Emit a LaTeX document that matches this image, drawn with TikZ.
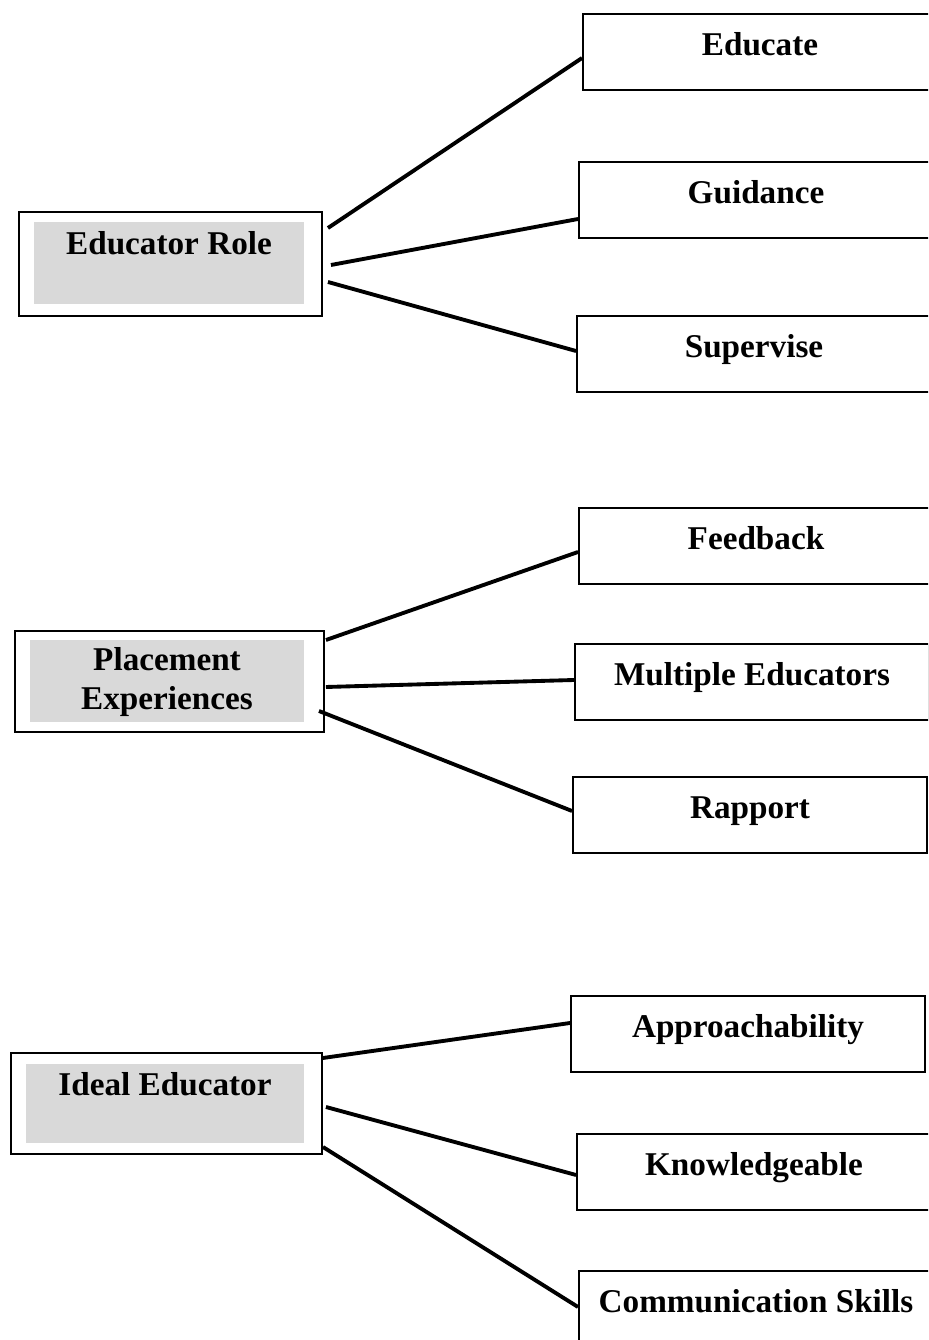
\documentclass[tikz,border=0pt]{standalone}
\usepackage{fontspec}
\setmainfont{Liberation Serif}
\usepackage{xcolor}
\usetikzlibrary{calc}
\definecolor{hubgray}{RGB}{217,217,217}

\begin{document}
\begin{tikzpicture}[scale=0.2,
  hubbox/.style={draw=black, line width=1.1pt, fill=white},
  hubfill/.style={fill=hubgray},
  hublabel/.style={font=\fontsize{18.9}{22.1}\selectfont\bfseries, align=center},
  leafbox/.style={draw=black, line width=1.1pt, minimum width=7.08cm, minimum height=1.52cm,
    font=\fontsize{18.9}{22.1}\selectfont\bfseries, text height=15.4pt, text depth=11.3pt},
  link/.style={black, line width=2.2pt}]
\tikzstyle{every node}+=[inner sep=0pt]
\useasboundingbox (0,0) rectangle (92.8,-134);
\clip (0,0) rectangle (92.8,-134);
\node [hubbox, minimum width=6.06cm, minimum height=2.08cm] (role) at (17.05,-26.4) {};
\node [hubfill, minimum width=5.4cm, minimum height=1.64cm] (rolefill) at (16.9,-26.3) {};
\node [hublabel, anchor=base] (rolelabel) at (16.9,-25.5) {Educator Role};
\node [hubbox, minimum width=6.18cm, minimum height=2.02cm] (place) at (16.95,-68.15) {};
\node [hubfill, minimum width=5.48cm, minimum height=1.64cm] (placefill) at (16.7,-68.1) {};
\node [hublabel] (placelabel) at (16.7,-68.17) {Placement\\Experiences};
\node [hubbox, minimum width=6.22cm, minimum height=2.02cm] (ideal) at (16.65,-110.35) {};
\node [hubfill, minimum width=5.56cm, minimum height=1.58cm] (idealfill) at (16.5,-110.35) {};
\node [hublabel, anchor=base] (ideallabel) at (16.5,-109.5) {Ideal Educator};
\node [leafbox] (educate) at (76.0,-5.2) {Educate};
\node [leafbox] (guidance) at (75.6,-20.0) {Guidance};
\node [leafbox] (supervise) at (75.4,-35.4) {Supervise};
\node [leafbox] (feedback) at (75.6,-54.6) {Feedback};
\node [leafbox] (multi) at (75.2,-68.2) {Multiple Educators};
\node [leafbox] (rapport) at (75.0,-81.5) {Rapport};
\node [leafbox] (approach) at (74.8,-103.4) {Approachability};
\node [leafbox] (knowledge) at (75.4,-117.2) {Knowledgeable};
\node [leafbox] (comm) at (75.6,-130.9) {Communication Skills};
\draw [link] ($(role.east)+(0.5,3.6)$) -- ($(educate.west)+(0,-0.6)$);
\draw [link] ($(role.east)+(0.8,-0.1)$) -- ($(guidance.west)+(0,-1.9)$);
\draw [link] ($(role.east)+(0.5,-1.8)$) -- ($(supervise.west)+(0,0.3)$);
\draw [link] ($(place.east)+(0.1,4.15)$) -- ($(feedback.west)+(0,-0.6)$);
\draw [link] ($(place.east)+(0.1,-0.55)$) -- ($(multi.west)+(0,0.2)$);
\draw [link] ($(place.east)+(-0.6,-2.95)$) -- ($(rapport.west)+(0,0.4)$);
\draw [link] ($(ideal.east)+(0,4.55)$) -- ($(approach.west)+(0,1.1)$);
\draw [link] ($(ideal.east)+(0.3,-0.35)$) -- ($(knowledge.west)+(0,-0.3)$);
\draw [link] ($(ideal.east)+(0,-4.35)$) -- ($(comm.west)+(0,0.2)$);
\end{tikzpicture}
\end{document}
